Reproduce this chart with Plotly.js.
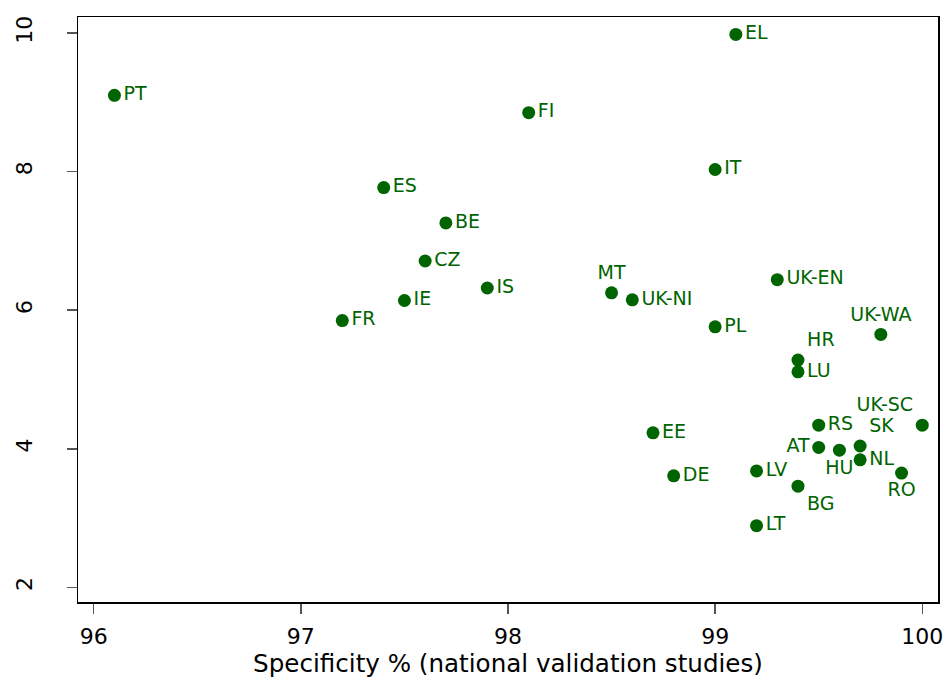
<!DOCTYPE html>
<html>
<head>
<meta charset="utf-8">
<script src="https://cdn.plot.ly/plotly-3.0.1.min.js"></script>
<style>
  html, body { margin: 0; padding: 0; background: #ffffff; }
  #chart { width: 943px; height: 680px; }
</style>
</head>
<body>
<div id="chart"></div>
<script>
// Country / region codes
const countries = ["PT", "EL", "FI", "IT", "ES", "BE", "CZ", "IE", "IS", "FR",
                   "MT", "UK-NI", "PL", "UK-EN", "UK-WA", "HR", "LU", "EE", "DE", "LV",
                   "LT", "BG", "RS", "AT", "HU", "SK", "NL", "UK-SC", "RO"];

// Specificity % from national validation studies
const specificity = [96.1, 99.1, 98.1, 99.0, 97.4, 97.7, 97.6, 97.5, 97.9, 97.2,
                     98.5, 98.6, 99.0, 99.3, 99.8, 99.4, 99.4, 98.7, 98.8, 99.2,
                     99.2, 99.4, 99.5, 99.5, 99.6, 99.7, 99.7, 100.0, 99.9];

// Vertical-axis value for each country
const yValues = [9.1, 9.98, 8.85, 8.03, 7.77, 7.26, 6.71, 6.14, 6.32, 5.85,
                 6.25, 6.15, 5.76, 6.44, 5.65, 5.28, 5.11, 4.23, 3.61, 3.68,
                 2.89, 3.46, 4.34, 4.02, 3.98, 4.04, 3.84, 4.34, 3.65];

// Axis ticks
const xTicks = [96, 97, 98, 99, 100];
const yTicks = [2, 4, 6, 8, 10];

// Where each label sits relative to its marker
const labelPos = ["middle right", "middle right", "middle right", "middle right", "middle right",
                  "middle right", "middle right", "middle right", "middle right", "middle right",
                  "top center", "middle right", "middle right", "middle right", "top center",
                  "top right", "middle right", "middle right", "middle right", "middle right",
                  "middle right", "bottom right", "middle right", "middle left", "bottom center",
                  "top right", "middle right", "top left", "bottom center"];

const green = "rgb(0,100,0)";
const font = "DejaVu Sans, Verdana, sans-serif";

const trace = {
  type: "scatter",
  mode: "markers+text",
  x: specificity,
  y: yValues,
  text: countries,
  textposition: labelPos,
  textfont: { family: font, size: 19, color: green },
  marker: { size: 13, color: green },
  cliponaxis: false,
  hoverinfo: "x+y+text"
};

const layout = {
  width: 943,
  height: 680,
  margin: { l: 78, r: 5, t: 17, b: 78 },
  paper_bgcolor: "#ffffff",
  plot_bgcolor: "#ffffff",
  showlegend: false,
  font: { family: font, color: "#000000" },
  xaxis: {
    range: [95.924, 100.076],
    tickvals: xTicks,
    ticktext: xTicks.map(String),
    ticks: "outside",
    ticklen: 10,
    tickwidth: 1.5,
    tickcolor: "#555555",
    ticklabeloverflow: "allow",
    ticklabelstandoff: 4,
    tickfont: { family: font, size: 22, color: "#000000" },
    showgrid: false,
    zeroline: false,
    showline: true,
    mirror: true,
    linecolor: "#000000",
    linewidth: 1.5,
    title: {
      text: "Specificity % (national validation studies)",
      font: { family: font, size: 24.6, color: "#000000" },
      standoff: 1
    }
  },
  yaxis: {
    range: [1.789, 10.231],
    tickvals: yTicks,
    ticktext: yTicks.map(String),
    ticks: "outside",
    ticklen: 10,
    tickwidth: 1.5,
    tickcolor: "#555555",
    tickangle: -90,
    ticklabelstandoff: 26,
    ticklabeloverflow: "allow",
    tickfont: { family: font, size: 22, color: "#000000" },
    showgrid: false,
    zeroline: false,
    showline: true,
    mirror: true,
    linecolor: "#000000",
    linewidth: 1.5
  }
};

Plotly.newPlot("chart", [trace], layout, { displayModeBar: false, staticPlot: true });
</script>
</body>
</html>
